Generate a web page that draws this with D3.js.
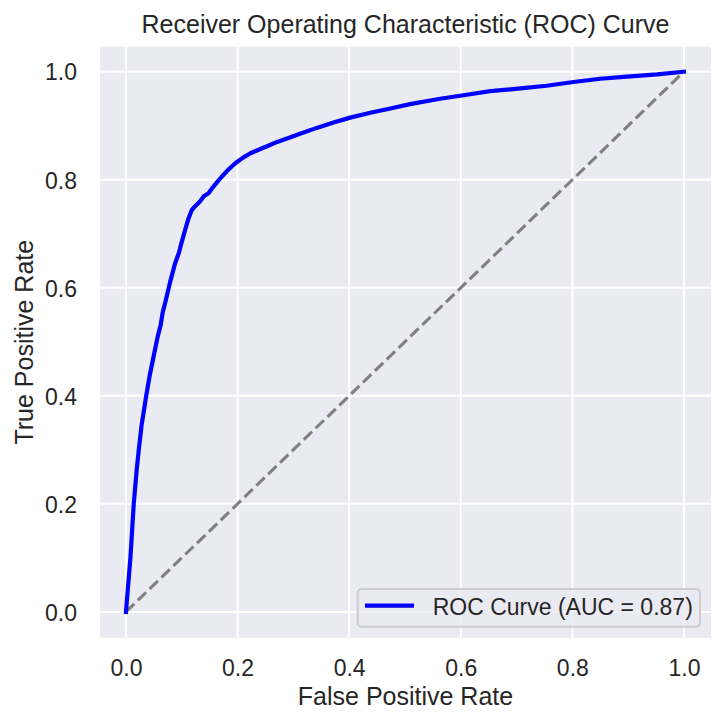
<!DOCTYPE html>
<html>
<head>
<meta charset="utf-8">
<script src="https://cdn.jsdelivr.net/npm/d3@7"></script>
<style>
  html, body { margin: 0; padding: 0; background: #ffffff; }
  svg { display: block; }
  text { font-family: "Liberation Sans", Arial, sans-serif; fill: #262626; }
</style>
</head>
<body>
<svg id="chart" width="726" height="725"></svg>
<script>
// ---- data ----
const fpr = [0, 0.004, 0.008, 0.011, 0.014, 0.019, 0.023, 0.028, 0.036, 0.043, 0.050, 0.053,
  0.057, 0.062, 0.066, 0.071, 0.079, 0.088, 0.095, 0.100, 0.106, 0.112, 0.118, 0.125, 0.133,
  0.140, 0.148, 0.155, 0.163, 0.172, 0.181, 0.190, 0.199, 0.210, 0.223, 0.241, 0.255, 0.271,
  0.290, 0.312, 0.342, 0.372, 0.402, 0.438, 0.474, 0.509, 0.563, 0.602, 0.653, 0.707, 0.754,
  0.802, 0.850, 0.898, 0.952, 1.0];
const tpr = [0, 0.05, 0.10, 0.15, 0.20, 0.26, 0.30, 0.345, 0.398, 0.44, 0.475, 0.49,
  0.51, 0.53, 0.555, 0.575, 0.61, 0.645, 0.665, 0.685, 0.707, 0.728, 0.744, 0.752, 0.760,
  0.770, 0.775, 0.785, 0.795, 0.806, 0.816, 0.825, 0.833, 0.841, 0.849, 0.857, 0.863, 0.870,
  0.877, 0.885, 0.896, 0.906, 0.915, 0.924, 0.932, 0.940, 0.950, 0.956, 0.964, 0.969, 0.974,
  0.981, 0.987, 0.991, 0.995, 1.0];
const diagX = [0, 1];
const diagY = [0, 1];
const xTicks = [0.0, 0.2, 0.4, 0.6, 0.8, 1.0];
const yTicks = [0.0, 0.2, 0.4, 0.6, 0.8, 1.0];
const titleText = "Receiver Operating Characteristic (ROC) Curve";
const xLabelText = "False Positive Rate";
const yLabelText = "True Positive Rate";
const legendLabel = "ROC Curve (AUC = 0.87)";

// ---- layout ----
const plot = { left: 100, right: 711, top: 46.7, bottom: 637.7 };
const svg = d3.select("#chart");
const FONT = '"Liberation Sans", Arial, sans-serif';

const x = d3.scaleLinear().domain([-0.0465, 1.0485]).range([plot.left, plot.right]);
const y = d3.scaleLinear().domain([-0.0478, 1.0463]).range([plot.bottom, plot.top]);

// axes background
svg.append("rect")
  .attr("x", plot.left).attr("y", plot.top)
  .attr("width", plot.right - plot.left).attr("height", plot.bottom - plot.top)
  .attr("fill", "#eaeaf2");

// grid
const grid = svg.append("g");
grid.selectAll("line.vx").data(xTicks).enter().append("line")
  .attr("x1", d => x(d)).attr("x2", d => x(d))
  .attr("y1", plot.top).attr("y2", plot.bottom)
  .attr("stroke", "#ffffff").attr("stroke-width", 2);
grid.selectAll("line.hy").data(yTicks).enter().append("line")
  .attr("y1", d => y(d)).attr("y2", d => y(d))
  .attr("x1", plot.left).attr("x2", plot.right)
  .attr("stroke", "#ffffff").attr("stroke-width", 2);

// axes (tick labels only)
const xAxis = d3.axisBottom(x).tickValues(xTicks).tickFormat(d3.format(".1f")).tickSize(0).tickPadding(0);
const gx = svg.append("g").attr("transform", `translate(0,${plot.bottom})`).call(xAxis);
gx.select(".domain").remove();
gx.selectAll("text").attr("dy", null).attr("y", 38)
  .style("font-size", "23px").style("font-family", FONT).attr("fill", "#262626");

const yAxis = d3.axisLeft(y).tickValues(yTicks).tickFormat(d3.format(".1f")).tickSize(0).tickPadding(0);
const gy = svg.append("g").attr("transform", `translate(${plot.left},0)`).call(yAxis);
gy.select(".domain").remove();
gy.selectAll("text").attr("x", -23).attr("dy", "0.36em")
  .style("font-size", "23px").style("font-family", FONT).attr("fill", "#262626");

// clip
svg.append("clipPath").attr("id", "clip").append("rect")
  .attr("x", plot.left).attr("y", plot.top)
  .attr("width", plot.right - plot.left).attr("height", plot.bottom - plot.top);

const line = d3.line().x(d => x(d[0])).y(d => y(d[1]));

// diagonal
svg.append("path")
  .attr("clip-path", "url(#clip)")
  .attr("d", line(diagX.map((v, i) => [v, diagY[i]])))
  .attr("fill", "none").attr("stroke", "#808080").attr("stroke-width", 3.1)
  .attr("stroke-dasharray", "11.5,5");

// ROC curve
svg.append("path")
  .attr("clip-path", "url(#clip)")
  .attr("d", line(fpr.map((v, i) => [v, tpr[i]])))
  .attr("fill", "none").attr("stroke", "#0000ff").attr("stroke-width", 4.2)
  .attr("stroke-linejoin", "round").attr("stroke-linecap", "square");

// title & labels
const cx = (plot.left + plot.right) / 2;
svg.append("text").attr("x", cx).attr("y", 33.3).attr("text-anchor", "middle")
  .style("font-size", "25px").text(titleText);
svg.append("text").attr("x", cx).attr("y", 705).attr("text-anchor", "middle")
  .style("font-size", "25px").text(xLabelText);
svg.append("text").attr("transform", `translate(33.3,${(plot.top + plot.bottom) / 2}) rotate(-90)`)
  .attr("text-anchor", "middle").style("font-size", "25px").text(yLabelText);

// legend
const lg = svg.append("g");
lg.append("rect").attr("x", 357.7).attr("y", 589).attr("width", 342.3).attr("height", 37.7)
  .attr("rx", 4).attr("ry", 4)
  .attr("fill", "#eaeaf2").attr("fill-opacity", 0.8)
  .attr("stroke", "#cccccc").attr("stroke-width", 2);
lg.append("line").attr("x1", 365).attr("x2", 414).attr("y1", 605.7).attr("y2", 605.7)
  .attr("stroke", "#0000ff").attr("stroke-width", 4.2);
lg.append("text").attr("x", 432.7).attr("y", 615).style("font-size", "23px").text(legendLabel);
</script>
</body>
</html>
